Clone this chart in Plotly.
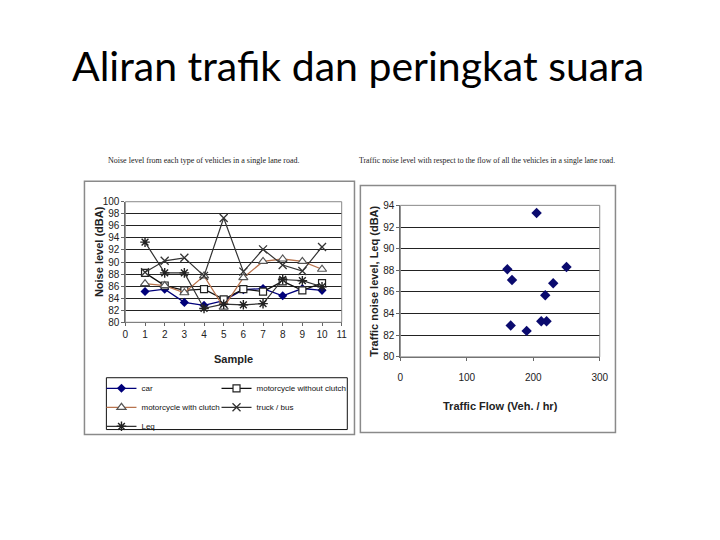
import plotly.graph_objects as go

# ---- data ----
samples = [1, 2, 3, 4, 5, 6, 7, 8, 9, 10]
car = [85.1, 85.5, 83.3, 82.8, 83.6, 85.4, 85.6, 84.4, 85.6, 85.3]
moto_no_clutch = [88.2, 86.1, 85.3, 85.5, 83.8, 85.5, 85.1, 86.8, 85.3, 86.5]
moto_clutch = [86.4, 86.1, 84.9, 87.7, 82.5, 87.4, 90.1, 90.5, 90.1, 88.8]
truck_bus = [88.3, 90.2, 90.7, 87.7, 97.3, 88.4, 92.1, 89.5, 88.5, 92.5]
leq = [93.3, 88.2, 88.2, 82.3, 83.0, 82.9, 83.1, 87.1, 86.9, 85.9]

flow = [205, 161, 168, 166, 190, 212, 220, 218, 230, 250]
leq_flow = [93.3, 88.1, 87.1, 82.9, 82.4, 83.3, 83.3, 85.7, 86.8, 88.3]

W, H = 720, 540
OFF = 8  # page body margin
def px(x): return (x - OFF) / W
def py(y): return 1 - (y - OFF) / H

NARROW = "Liberation Sans Narrow, Arial Narrow, Liberation Sans, Arial"
SERIF = "Liberation Serif, Times New Roman, serif"
BOLD = "Liberation Sans, Arial"

fig = go.Figure()

fig.add_trace(go.Scatter(x=samples, y=car, name="car", mode="lines+markers",
    line=dict(color="#00007a", width=1.3),
    marker=dict(symbol="diamond", size=7, color="#00007a"), legend="legend"))
fig.add_trace(go.Scatter(x=samples, y=moto_no_clutch, name="motorcycle without clutch", mode="lines+markers",
    line=dict(color="#111111", width=1.3),
    marker=dict(symbol="square", size=7, color="white", line=dict(color="#222222", width=1.2)), legend="legend2"))
fig.add_trace(go.Scatter(x=samples, y=moto_clutch, name="motorcycle with clutch", mode="lines+markers",
    line=dict(color="#b8734d", width=1.3),
    marker=dict(symbol="triangle-up", size=8, color="white", line=dict(color="#555555", width=1.2)), legend="legend"))
fig.add_trace(go.Scatter(x=samples, y=truck_bus, name="truck / bus", mode="lines+markers",
    line=dict(color="#333333", width=1.2),
    marker=dict(symbol="x-thin-open", size=8, color="#333333", line=dict(color="#333333", width=1.3)), legend="legend2"))
fig.add_trace(go.Scatter(x=samples, y=leq, name="Leq", mode="lines+markers",
    line=dict(color="#333333", width=1.2),
    marker=dict(symbol="asterisk-open", size=8, color="#222222", line=dict(color="#222222", width=1.4)), legend="legend"))

fig.add_trace(go.Scatter(x=flow, y=leq_flow, mode="markers", showlegend=False,
    marker=dict(symbol="diamond", size=8, color="#0a0a6e"), xaxis="x2", yaxis="y2"))

axis_common = dict(showline=True, linecolor="#666666", linewidth=1, ticks="outside",
                   ticklen=3, tickcolor="#666666", zeroline=False, fixedrange=True)
TICKF = dict(family=NARROW, size=10, color="#222")

fig.update_layout(
    width=W, height=H, margin=dict(l=0, r=0, t=0, b=0),
    paper_bgcolor="white", plot_bgcolor="white",
    xaxis=dict(domain=[px(124.3), px(344.3)], range=[0, 11], tick0=0, dtick=1, showgrid=False,
               anchor="y", tickfont=TICKF, **axis_common),
    yaxis=dict(domain=[py(323.3), py(200)], range=[80, 100], tick0=80, dtick=2, showgrid=True,
               gridcolor="#222222", gridwidth=1, anchor="x", tickfont=TICKF, **axis_common),
    xaxis2=dict(domain=[px(404), px(606.7)], range=[0, 300], tick0=0, dtick=100, showgrid=False,
                anchor="y2", ticklabelstandoff=8, tickfont=TICKF, **axis_common),
    yaxis2=dict(domain=[py(358.7), py(203.7)], range=[80, 94], tick0=80, dtick=2, showgrid=True,
                gridcolor="#222222", gridwidth=1, anchor="x2", tickfont=TICKF, **axis_common),
    legend=dict(x=px(100), y=py(376), xanchor="left", yanchor="top", orientation="v",
                font=dict(family=NARROW, size=8, color="#111"), bgcolor="rgba(0,0,0,0)",
                tracegroupgap=0, itemwidth=30),
    legend2=dict(x=px(217), y=py(376), xanchor="left", yanchor="top", orientation="v",
                 font=dict(family=NARROW, size=8, color="#111"), bgcolor="rgba(0,0,0,0)",
                 tracegroupgap=0, itemwidth=30),
    showlegend=True,
)

shapes = [
    # outer chart boxes
    dict(type="rect", xref="paper", yref="paper", x0=px(82.7), x1=px(357.3), y0=py(438), y1=py(179),
         line=dict(color="#8a8a8a", width=1.5)),
    dict(type="rect", xref="paper", yref="paper", x0=px(363.3), x1=px(622.7), y0=py(436), y1=py(183.3),
         line=dict(color="#8a8a8a", width=1.5)),
    # plot area frames
    dict(type="rect", xref="x domain", yref="y domain", x0=0, x1=1, y0=0, y1=1,
         line=dict(color="#888888", width=1)),
    dict(type="rect", xref="x2 domain", yref="y2 domain", x0=0, x1=1, y0=0, y1=1,
         line=dict(color="#888888", width=1)),
    # legend box
    dict(type="rect", xref="paper", yref="paper", x0=px(105), x1=px(350), y0=py(433), y1=py(380),
         line=dict(color="#111111", width=1)),
]
fig.update_layout(shapes=shapes)

annotations = [
    dict(text="Aliran trafik dan peringkat suara", x=px(360.5), y=py(61), xref="paper", yref="paper",
         showarrow=False, font=dict(family="Lato, Noto Sans, sans-serif", size=41, color="#000"),
         xanchor="center", yanchor="middle"),
    dict(text="Noise level from each type of vehicles in a single lane road.", x=px(203.5), y=py(157.5),
         xref="paper", yref="paper", showarrow=False, font=dict(family=SERIF, size=8, color="#222"),
         xanchor="center", yanchor="middle"),
    dict(text="Traffic noise level with respect to the flow of all the vehicles in a single lane road.",
         x=px(492.5), y=py(157.5), xref="paper", yref="paper", showarrow=False,
         font=dict(family=SERIF, size=7.8, color="#222"), xanchor="center", yanchor="middle"),
    dict(text="<b>Noise level (dBA)</b>", x=px(97), y=py(251), xref="paper", yref="paper",
         showarrow=False, textangle=-90, font=dict(family=BOLD, size=11, color="#222"),
         xanchor="center", yanchor="middle"),
    dict(text="<b>Sample</b>", x=px(234), y=py(361), xref="paper", yref="paper",
         showarrow=False, font=dict(family=NARROW, size=11, color="#222"),
         xanchor="center", yanchor="middle"),
    dict(text="<b>Traffic noise level, Leq (dBA)</b>", x=px(377), y=py(281), xref="paper", yref="paper",
         showarrow=False, textangle=-90, font=dict(family=BOLD, size=11, color="#222"),
         xanchor="center", yanchor="middle"),
    dict(text="<b>Traffic Flow (Veh. / hr)</b>", x=px(506), y=py(409), xref="paper", yref="paper",
         showarrow=False, font=dict(family=BOLD, size=11, color="#222"),
         xanchor="center", yanchor="middle"),
]
fig.update_layout(annotations=annotations)

fig.write_html("out.html")
